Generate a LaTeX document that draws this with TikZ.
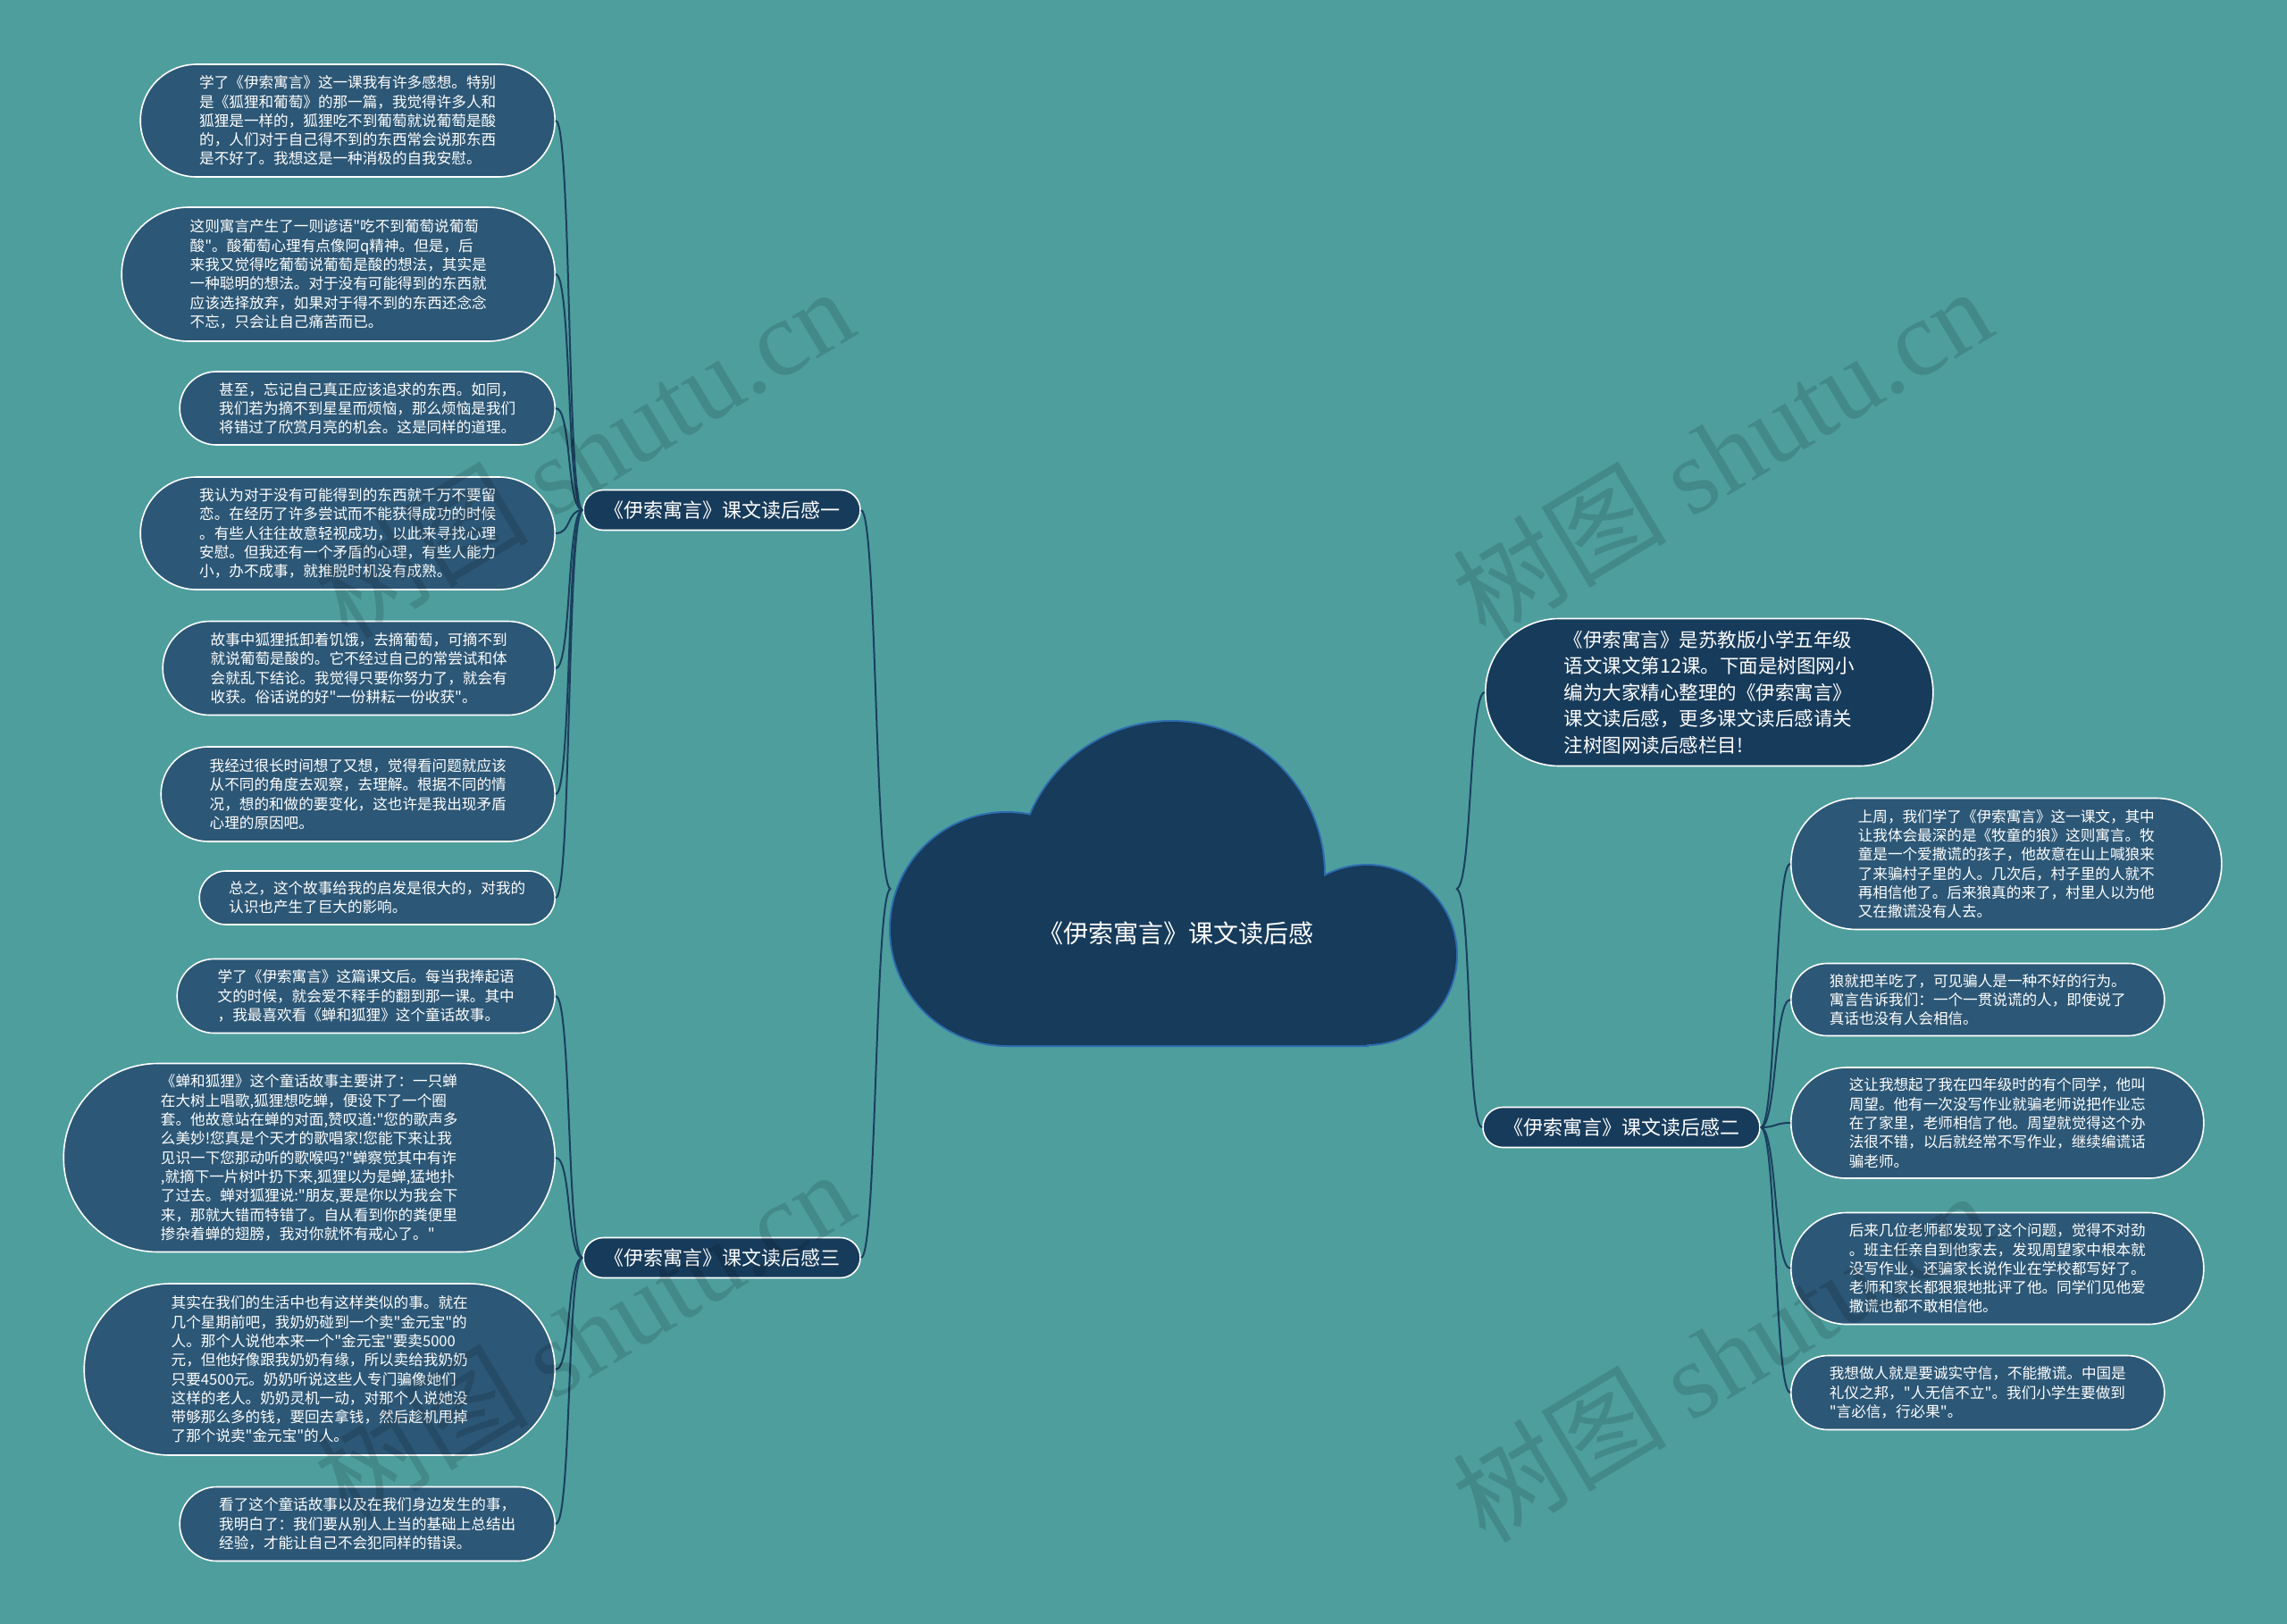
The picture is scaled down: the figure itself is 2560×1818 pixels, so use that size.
\documentclass[tikz,border=0pt]{standalone}
\usepackage{fontspec}
\setmainfont{Noto Sans CJK SC}[Ligatures=TeXOff]
\newfontfamily\wmfont{Liberation Serif}
\definecolor{bgc}{HTML}{4E9E9E}
\definecolor{leafc}{HTML}{2C5776}
\definecolor{navyc}{HTML}{173B5B}
\definecolor{linkc}{HTML}{1B3F5E}
\definecolor{cloudedge}{HTML}{2D6DB0}
\begin{document}
\begin{tikzpicture}[x=1pt,y=-1pt,
  pill/.style n args={3}{rectangle, minimum width=#1, minimum height=#2, rounded corners=#3, inner sep=0pt},
  leafbox/.style={fill=leafc, draw=white, line width=1.6pt, text=white, align=left, font=\fontsize{16.6}{21.3}\selectfont},
  introbox/.style={fill=navyc, draw=white, line width=1.6pt, text=white, align=left, font=\fontsize{21.5}{29.4}\selectfont},
  branchbox/.style={fill=navyc, draw=white, line width=1.6pt, text=white, pill={310pt}{45pt}{22.4pt}, font=\fontsize{22}{26}\selectfont},
  link/.style={draw=linkc, line width=2pt},
  wmark/.style={rotate=31, text=black, text opacity=0.13, font=\fontsize{120}{130}\selectfont}]
\fill[bgc] (0,0) rectangle (2560,1818);
\useasboundingbox (0,0) rectangle (2560,1818);

% cloud
\draw[cloudedge, line width=4pt] (1311,979) circle[radius=171pt] (1127,1040) circle[radius=130pt] (1530,1069) circle[radius=100pt] (1127,1040) rectangle (1530,1170);
\fill[navyc] (1311,979) circle[radius=171pt] (1127,1040) circle[radius=130pt] (1530,1069) circle[radius=100pt] (1127,1040) rectangle (1530,1170);
\node[text=white, font=\fontsize{28}{32}\selectfont] (center) at (1316,1045) {《伊索寓言》课文读后感};
\coordinate (cl) at (997,995);
\coordinate (cr) at (1630,995);

% branches
\node[branchbox] (b1) at (808,571) {《伊索寓言》课文读后感一};
\node[branchbox] (b3) at (808,1408) {《伊索寓言》课文读后感三};
\node[branchbox] (b2) at (1815,1262) {《伊索寓言》课文读后感二};

% left leaves
\node[leafbox, pill={464pt}{126pt}{62.9pt}, anchor=east] (l1) at (622,135) {学了《伊索寓言》这一课我有许多感想。特别\\是《狐狸和葡萄》的那一篇，我觉得许多人和\\狐狸是一样的，狐狸吃不到葡萄就说葡萄是酸\\的，人们对于自己得不到的东西常会说那东西\\是不好了。我想这是一种消极的自我安慰。};
\node[leafbox, pill={485pt}{150pt}{74.9pt}, anchor=east] (l2) at (622,307) {这则寓言产生了一则谚语"吃不到葡萄说葡萄\\酸"。酸葡萄心理有点像阿q精神。但是，后\\来我又觉得吃葡萄说葡萄是酸的想法，其实是\\一种聪明的想法。对于没有可能得到的东西就\\应该选择放弃，如果对于得不到的东西还念念\\不忘，只会让自己痛苦而已。};
\node[leafbox, pill={420pt}{82pt}{40.9pt}, anchor=east] (l3) at (622,457) {甚至，忘记自己真正应该追求的东西。如同，\\我们若为摘不到星星而烦恼，那么烦恼是我们\\将错过了欣赏月亮的机会。这是同样的道理。};
\node[leafbox, pill={464pt}{126pt}{62.9pt}, anchor=east] (l4) at (622,597) {我认为对于没有可能得到的东西就千万不要留\\恋。在经历了许多尝试而不能获得成功的时候\\。有些人往往故意轻视成功，以此来寻找心理\\安慰。但我还有一个矛盾的心理，有些人能力\\小，办不成事，就推脱时机没有成熟。};
\node[leafbox, pill={439pt}{105pt}{52.4pt}, anchor=east] (l5) at (622,748) {故事中狐狸抵卸着饥饿，去摘葡萄，可摘不到\\就说葡萄是酸的。它不经过自己的常尝试和体\\会就乱下结论。我觉得只要你努力了，就会有\\收获。俗话说的好"一份耕耘一份收获"。};
\node[leafbox, pill={441pt}{106pt}{52.9pt}, anchor=east] (l6) at (622,889) {我经过很长时间想了又想，觉得看问题就应该\\从不同的角度去观察，去理解。根据不同的情\\况，想的和做的要变化，这也许是我出现矛盾\\心理的原因吧。};
\node[leafbox, pill={398pt}{60pt}{29.9pt}, anchor=east] (l7) at (622,1005) {总之，这个故事给我的启发是很大的，对我的\\认识也产生了巨大的影响。};
\node[leafbox, pill={423pt}{83pt}{41.4pt}, anchor=east] (l8) at (622,1115) {学了《伊索寓言》这篇课文后。每当我捧起语\\文的时候，就会爱不释手的翻到那一课。其中\\，我最喜欢看《蝉和狐狸》这个童话故事。};
\node[leafbox, pill={550pt}{211pt}{105.4pt}, anchor=east] (l9) at (622,1296) {《蝉和狐狸》这个童话故事主要讲了：一只蝉\\在大树上唱歌,狐狸想吃蝉，便设下了一个圈\\套。他故意站在蝉的对面,赞叹道:"您的歌声多\\么美妙!您真是个天才的歌唱家!您能下来让我\\见识一下您那动听的歌喉吗?"蝉察觉其中有诈\\,就摘下一片树叶扔下来,狐狸以为是蝉,猛地扑\\了过去。蝉对狐狸说:"朋友,要是你以为我会下\\来，那就大错而特错了。自从看到你的粪便里\\掺杂着蝉的翅膀，我对你就怀有戒心了。"};
\node[leafbox, pill={527pt}{192pt}{95.9pt}, anchor=east] (l10) at (622,1533) {其实在我们的生活中也有这样类似的事。就在\\几个星期前吧，我奶奶碰到一个卖"金元宝"的\\人。那个人说他本来一个"金元宝"要卖5000\\元，但他好像跟我奶奶有缘，所以卖给我奶奶\\只要4500元。奶奶听说这些人专门骗像她们\\这样的老人。奶奶灵机一动，对那个人说她没\\带够那么多的钱，要回去拿钱，然后趁机甩掉\\了那个说卖"金元宝"的人。};
\node[leafbox, pill={420pt}{83pt}{41.4pt}, anchor=east] (l11) at (622,1706) {看了这个童话故事以及在我们身边发生的事，\\我明白了：我们要从别人上当的基础上总结出\\经验，才能让自己不会犯同样的错误。};

% right side
\node[introbox, pill={501pt}{165pt}{82.4pt}, anchor=west] (r0) at (1662,775) {《伊索寓言》是苏教版小学五年级\\语文课文第12课。下面是树图网小\\编为大家精心整理的《伊索寓言》\\课文读后感，更多课文读后感请关\\注树图网读后感栏目!};
\node[leafbox, pill={482pt}{147pt}{73.4pt}, anchor=west] (r1) at (2004,967) {上周，我们学了《伊索寓言》这一课文，其中\\让我体会最深的是《牧童的狼》这则寓言。牧\\童是一个爱撒谎的孩子，他故意在山上喊狼来\\了来骗村子里的人。几次后，村子里的人就不\\再相信他了。后来狼真的来了，村里人以为他\\又在撒谎没有人去。};
\node[leafbox, pill={418pt}{81pt}{40.4pt}, anchor=west] (r2) at (2004,1119) {狼就把羊吃了，可见骗人是一种不好的行为。\\寓言告诉我们：一个一贯说谎的人，即使说了\\真话也没有人会相信。};
\node[leafbox, pill={462pt}{124pt}{61.9pt}, anchor=west] (r3) at (2004,1257) {这让我想起了我在四年级时的有个同学，他叫\\周望。他有一次没写作业就骗老师说把作业忘\\在了家里，老师相信了他。周望就觉得这个办\\法很不错，以后就经常不写作业，继续编谎话\\骗老师。};
\node[leafbox, pill={462pt}{125pt}{62.4pt}, anchor=west] (r4) at (2004,1420) {后来几位老师都发现了这个问题，觉得不对劲\\。班主任亲自到他家去，发现周望家中根本就\\没写作业，还骗家长说作业在学校都写好了。\\老师和家长都狠狠地批评了他。同学们见他爱\\撒谎也都不敢相信他。};
\node[leafbox, pill={418pt}{83pt}{41.4pt}, anchor=west] (r5) at (2004,1559) {我想做人就是要诚实守信，不能撒谎。中国是\\礼仪之邦，"人无信不立"。我们小学生要做到\\"言必信，行必果"。};

% connectors
\draw[link] (cl) .. controls +(-18,0) and +(18,0) .. (b1.east);
\draw[link] (cl) .. controls +(-18,0) and +(18,0) .. (b3.east);
\draw[link] (cr) .. controls +(18,0) and +(-18,0) .. (r0.west);
\draw[link] (cr) .. controls +(18,0) and +(-18,0) .. (b2.west);
\foreach \n in {l1,l2,l3,l4,l5,l6,l7}
  \draw[link] (b1.west) .. controls +(-18,0) and +(18,0) .. (\n.east);
\foreach \n in {l8,l9,l10,l11}
  \draw[link] (b3.west) .. controls +(-18,0) and +(18,0) .. (\n.east);
\foreach \n in {r1,r2,r3,r4,r5}
  \draw[link] (b2.east) .. controls +(18,0) and +(-18,0) .. (\n.west);

% watermarks
\node[wmark] (w1) at (653,506) {树图 {\wmfont shutu.cn}};
\node[wmark] (w2) at (1927,506) {树图 {\wmfont shutu.cn}};
\node[wmark] (w3) at (653,1494) {树图 {\wmfont shutu.cn}};
\node[wmark] (w4) at (1927,1518) {树图 {\wmfont shutu.cn}};
\end{tikzpicture}
\end{document}
